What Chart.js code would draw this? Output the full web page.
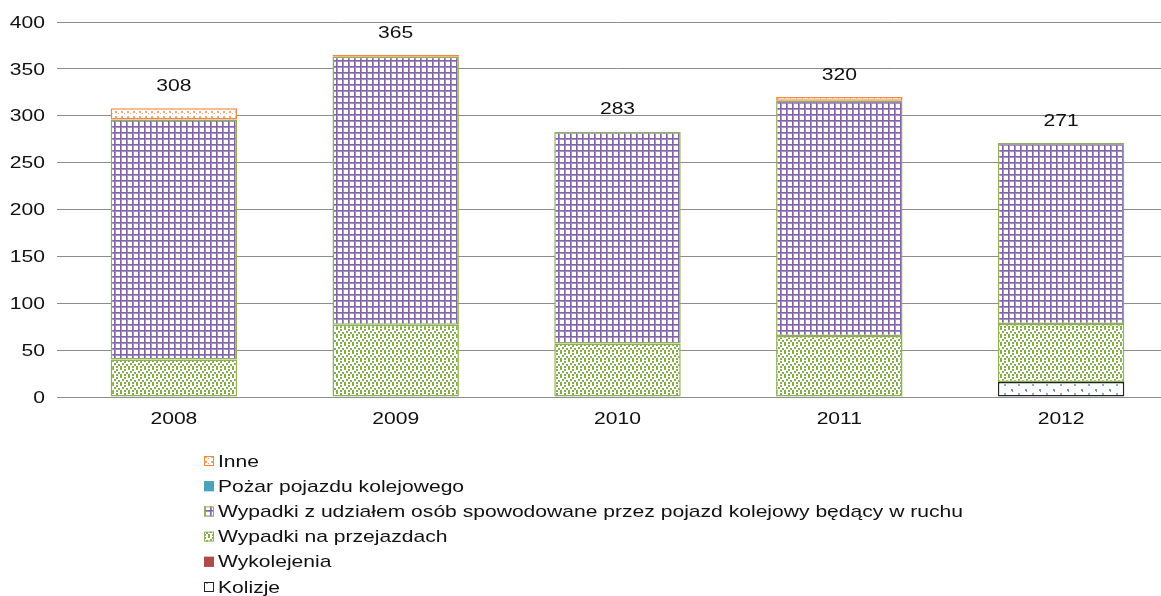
<!DOCTYPE html>
<html>
<head>
<meta charset="utf-8">
<script src="https://cdn.jsdelivr.net/npm/chart.js@4.4.1/dist/chart.umd.min.js"></script>
<style>
  html, body { margin: 0; padding: 0; background: #fff; overflow: hidden; }
  #wrap { width: 1172px; height: 596px; }
</style>
</head>
<body>
<div id="wrap"><canvas id="myChart" width="1172" height="596"></canvas></div>
<script>
// data
var years = ['2008', '2009', '2010', '2011', '2012'];
var kolizje = [0, 0, 0, 0, 16];
var wykolejenia = [0, 0, 0, 0, 0];
var przejazdy = [40, 77, 57, 65, 62];
var osoby = [256, 286, 226, 251, 193];
var pozar = [0, 0, 0, 0, 0];
var inne = [12, 2, 0, 4, 0];
var yTicks = [0, 50, 100, 150, 200, 250, 300, 350, 400];

// fill patterns
function makePattern(w, h, draw) {
    var c = document.createElement('canvas');
    c.width = w; c.height = h;
    var x = c.getContext('2d');
    x.fillStyle = '#ffffff';
    x.fillRect(0, 0, w, h);
    draw(x);
    return x.createPattern(c, 'repeat');
}
var gridPat = makePattern(6, 6, function (x) {
    x.fillStyle = '#a892c6';
    x.fillRect(0, 1, 6, 1);
    x.fillRect(1, 0, 1, 6);
    x.fillStyle = '#8064a6';
    x.fillRect(0, 0, 6, 1);
    x.fillRect(0, 0, 1, 6);
});
var dotPat = makePattern(8, 8, function (x) {
    x.fillStyle = '#88ad4e';
    [[0,0],[4,1],[2,3],[6,4],[0,6],[4,6]].forEach(function (p) { x.fillRect(p[0], p[1], 2, 2); });
});
var orangePat = makePattern(6, 5, function (x) {
    x.fillStyle = '#f7a56b';
    x.fillRect(1, 1, 2, 2);
    x.fillRect(4, 3, 1, 1);
});
var kolPat = makePattern(14, 9, function (x) {
    x.fillStyle = '#6d94c6';
    x.fillRect(3, 2, 2, 2);
    x.fillRect(4, 4, 1, 1);
    x.fillStyle = '#8eabd3';
    x.fillRect(10, 6, 2, 2);
});

var font = "'Liberation Sans', Arial, sans-serif";
var stretch = 1.24;

// the picture's text is drawn wide, so draw it scaled sideways
function wideText(c, str, x, y, align) {
    c.save();
    c.translate(x, y);
    c.scale(stretch, 1);
    c.textAlign = align;
    c.fillText(str, 0, 0);
    c.restore();
}

function bw(ctx) { return ctx.raw ? 1.5 : 0; }

var datasets = [
    { label: 'Kolizje', data: kolizje, backgroundColor: kolPat, borderColor: '#222222' },
    { label: 'Wykolejenia', data: wykolejenia, backgroundColor: '#b04b4b', borderColor: '#b04b4b' },
    { label: 'Wypadki na przejazdach', data: przejazdy, backgroundColor: dotPat, borderColor: '#8faf5a' },
    { label: 'Wypadki z udziałem osób spowodowane przez pojazd kolejowy będący w ruchu', data: osoby, backgroundColor: gridPat, borderColor: '#8faf5a' },
    { label: 'Pożar pojazdu kolejowego', data: pozar, backgroundColor: '#4aa3b8', borderColor: '#4aa3b8' },
    { label: 'Inne', data: inne, backgroundColor: orangePat, borderColor: '#f0883e' }
];
datasets.forEach(function (d) {
    d.borderWidth = bw;
    d.borderSkipped = false;
    d.barPercentage = 0.57;
    d.categoryPercentage = 1.0;
});

// axis labels, totals above bars and the legend list below
var extras = {
    id: 'extras',
    afterDatasetsDraw: function (chart) {
        var c = chart.ctx;
        var y = chart.scales.y, x = chart.scales.x;
        c.save();
        c.font = '17px ' + font;
        c.fillStyle = '#111';
        c.textBaseline = 'middle';
        yTicks.forEach(function (v) {
            wideText(c, String(v), 45, y.getPixelForValue(v) + 1, 'right');
        });
        years.forEach(function (yr, i) {
            wideText(c, yr, x.getPixelForValue(i), 419, 'center');
            var tot = 0;
            datasets.forEach(function (d) { tot += d.data[i]; });
            wideText(c, String(tot), x.getPixelForValue(i), y.getPixelForValue(tot) - 22, 'center');
        });
        // legend, top to bottom in reverse stack order
        var rows = datasets.slice().reverse();
        rows.forEach(function (d, k) {
            var cy = 461 + k * 25.2;
            c.fillStyle = d.backgroundColor;
            c.fillRect(204, cy - 5, 10, 10);
            c.strokeStyle = d.borderColor;
            c.lineWidth = 1;
            c.strokeRect(204.5, cy - 4.5, 9, 9);
            c.fillStyle = '#111';
            wideText(c, d.label, 218, cy + 1, 'left');
        });
        c.restore();
    }
};

const ctx = document.getElementById('myChart').getContext('2d');
const myChart = new Chart(ctx, {
    type: 'bar',
    data: { labels: years, datasets: datasets },
    plugins: [extras],
    options: {
        responsive: false,
        animation: false,
        layout: { padding: { top: 22, right: 0, bottom: 159, left: 0 } },
        plugins: { legend: { display: false }, tooltip: { enabled: false } },
        scales: {
            x: {
                stacked: true,
                grid: { display: false },
                border: { color: '#8c8c8c' },
                ticks: { display: false },
                afterFit: function (s) { s.height = 40; }
            },
            y: {
                stacked: true,
                min: 0, max: 400,
                afterBuildTicks: function (s) { s.ticks = yTicks.map(function (v) { return { value: v }; }); },
                grid: { color: '#8c8c8c', tickLength: 6 },
                border: { display: false },
                ticks: { display: false },
                afterFit: function (s) { s.width = 63; }
            }
        }
    }
});
</script>
</body>
</html>
